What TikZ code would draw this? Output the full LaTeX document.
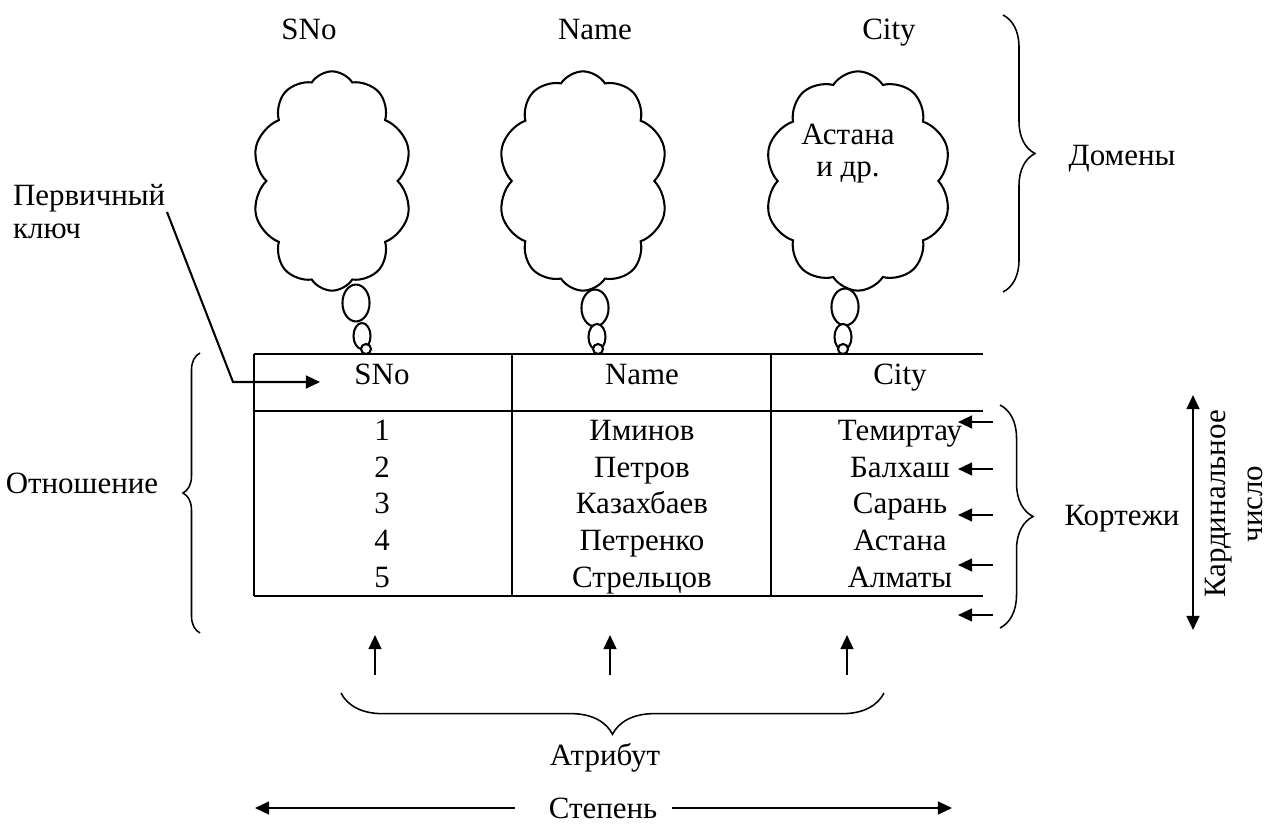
\documentclass[tikz,border=0pt]{standalone}
\usepackage{fontspec}
\setmainfont{Liberation Serif}
\usetikzlibrary{shapes.symbols,shapes.geometric,arrows.meta,decorations.pathreplacing}

\begin{document}
\begin{tikzpicture}[x=0.3876pt,y=-0.3876pt,line width=0.8pt,
    every node/.style={font=\fontsize{12pt}{14pt}\selectfont},
    txt/.style={anchor=base,inner sep=0pt},
    thought/.style={cloud,draw,cloud puffs=10,cloud puff arc=115,cloud ignores aspect,
      minimum height=85pt,inner sep=0pt},
    bubbig/.style={ellipse,draw,fill=white,inner sep=0pt,minimum width=10.5pt,minimum height=14.3pt},
    bubmid/.style={ellipse,draw,fill=white,inner sep=0pt,minimum width=6.6pt,minimum height=10.1pt},
    bubsml/.style={circle,draw,fill=white,inner sep=0pt,minimum size=3.9pt},
    arr/.style={-{Triangle[length=5.5pt,width=5pt]}},
    brc/.style={decorate,decoration={brace,amplitude=#1},line width=0.6pt}]
      \useasboundingbox (0,0) rectangle (1274,827);%

      \node[txt] (lSNo) at (309,40) {SNo};%
      \node[txt] (lName) at (595,40) {Name};%
      \node[txt] (lCity) at (889,40) {City};%

      \node[thought,minimum width=62pt] (cSNo) at (332,181) {};%
      \node[thought,minimum width=66pt] (cName) at (583,181) {};%
      \node[thought,minimum width=72.5pt] (cCity) at (858,181) {};%
      \node[anchor=north,inner sep=0pt,align=center,
        font=\fontsize{12pt}{12.5pt}\selectfont] (cityval) at (848,123) {Астана\\и др.};%

      \draw (254,354) -- (983,354);%
      \draw (254,411) -- (983,411);%
      \draw (254,596) -- (983,596);%
      \draw (254,354) -- (254,596);%
      \draw (512,354) -- (512,596);%
      \draw (771,354) -- (771,596);%

      \node[bubbig] (bS1) at (356,303) {};%
      \node[bubmid] (bS2) at (362,336) {};%
      \node[bubsml] (bS3) at (366,349) {};%
      \node[bubbig] (bN1) at (595,308) {};%
      \node[bubmid] (bN2) at (597,337) {};%
      \node[bubsml] (bN3) at (598,349) {};%
      \node[bubbig] (bC1) at (845,307) {};%
      \node[bubmid] (bC2) at (843,337) {};%
      \node[bubsml] (bC3) at (843,349) {};%

      \node[txt] (hSNo) at (382,384) {SNo};%
      \node[txt] (hName) at (642,384) {Name};%
      \node[txt] (hCity) at (900,384) {City};%

      \node[txt] (n1) at (382,440) {1};%
      \node[txt] (n2) at (382,477) {2};%
      \node[txt] (n3) at (382,513) {3};%
      \node[txt] (n4) at (382,550) {4};%
      \node[txt] (n5) at (382,587) {5};%

      \node[txt] (s1) at (642,440) {Иминов};%
      \node[txt] (s2) at (642,477) {Петров};%
      \node[txt] (s3) at (642,513) {Казахбаев};%
      \node[txt] (s4) at (642,550) {Петренко};%
      \node[txt] (s5) at (642,587) {Стрельцов};%

      \node[txt] (c1) at (900,440) {Темиртау};%
      \node[txt] (c2) at (900,477) {Балхаш};%
      \node[txt] (c3) at (900,513) {Сарань};%
      \node[txt] (c4) at (900,550) {Астана};%
      \node[txt] (c5) at (900,587) {Алматы};%

      \coordinate (t1) at (993,422);%
      \coordinate (t2) at (993,469);%
      \coordinate (t3) at (993,515);%
      \coordinate (t4) at (993,565);%
      \coordinate (t5) at (993,615);%
      \coordinate (e1) at (958,422);%
      \coordinate (e2) at (958,469);%
      \coordinate (e3) at (958,515);%
      \coordinate (e4) at (958,565);%
      \coordinate (e5) at (958,615);%
      \draw[arr] (t1) -- (e1);%
      \draw[arr] (t2) -- (e2);%
      \draw[arr] (t3) -- (e3);%
      \draw[arr] (t4) -- (e4);%
      \draw[arr] (t5) -- (e5);%

      \node[anchor=north west,inner sep=0pt,align=left,
        font=\fontsize{12pt}{13pt}\selectfont] (pk) at (12,183) {Первичный\\ключ};%
      \coordinate (pkA) at (167,212);%
      \coordinate (pkB) at (233,382);%
      \coordinate (pkC) at (320,382);%
      \draw[arr] (pkA) -- (pkB) -- (pkC);%

      \draw[brc=12.4pt] (1003,15) -- (1003,292);%
      \node[txt] (dom) at (1122,165) {Домены};%
      \draw[brc=6.6pt] (200,633) -- (200,353);%
      \node[txt] (rel) at (82,493) {Отношение};%
      \draw[brc=12.8pt] (1000,405) -- (1000,628);%
      \node[txt] (tup) at (1122,525) {Кортежи};%
      \draw[brc=16pt] (884,693) -- (341,693);%
      \node[txt] (attr) at (605,765) {Атрибут};%

      \coordinate (cardT) at (1193,395);%
      \coordinate (cardB) at (1193,630);%
      \draw[{Triangle[length=5.5pt,width=5pt]}-{Triangle[length=5.5pt,width=5pt]}] (cardT) -- (cardB);%
      \node[rotate=90,align=center,inner sep=0pt,
        font=\fontsize{12pt}{14.7pt}\selectfont] (card) at (1234,504) {Кардинальное\\число};%

      \coordinate (u1) at (375,675);%
      \coordinate (u2) at (610,675);%
      \coordinate (u3) at (847,675);%
      \coordinate (v1) at (375,635);%
      \coordinate (v2) at (610,635);%
      \coordinate (v3) at (847,635);%
      \draw[arr] (u1) -- (v1);%
      \draw[arr] (u2) -- (v2);%
      \draw[arr] (u3) -- (v3);%

      \node[inner sep=0pt] (deg) at (603,808) {Степень};%
      \coordinate (degL) at (255,808);%
      \coordinate (degR) at (952,808);%
      \draw[arr,shorten <=12.8pt] (deg) -- (degL);%
      \draw[arr,shorten <=5.4pt] (deg) -- (degR);%
    \end{tikzpicture}
\end{document}
